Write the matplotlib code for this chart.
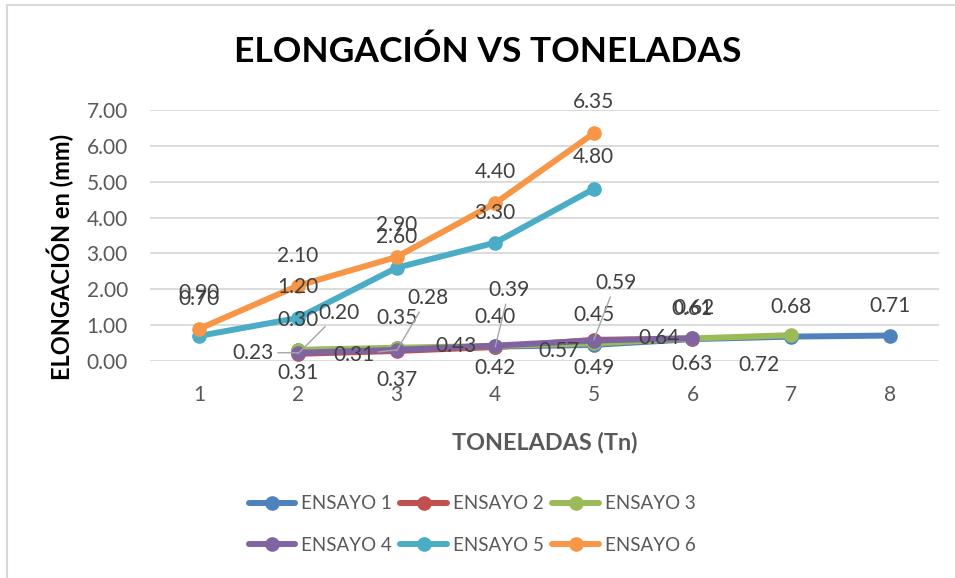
import matplotlib
matplotlib.use('Agg')
import matplotlib.pyplot as plt
from matplotlib.lines import Line2D
from matplotlib.ticker import FormatStrFormatter

plt.rcParams['font.family'] = ['Lato', 'DejaVu Sans']

# Datos (toneladas vs elongación en mm)
categorias = [1, 2, 3, 4, 5, 6, 7, 8]
nombres = ['ENSAYO 1', 'ENSAYO 2', 'ENSAYO 3', 'ENSAYO 4', 'ENSAYO 5', 'ENSAYO 6']

toneladas_1 = [2, 3, 4, 5, 6, 7, 8]
ensayo_1 = [0.30, 0.35, 0.40, 0.45, 0.61, 0.68, 0.71]
toneladas_2 = [2, 3, 4, 5, 6]
ensayo_2 = [0.20, 0.28, 0.39, 0.59, 0.62]
toneladas_3 = [2, 3, 4, 5, 6, 7]
ensayo_3 = [0.31, 0.37, 0.42, 0.49, 0.63, 0.72]
toneladas_4 = [2, 3, 4, 5, 6]
ensayo_4 = [0.23, 0.31, 0.43, 0.57, 0.64]
toneladas_5 = [1, 2, 3, 4, 5]
ensayo_5 = [0.70, 1.20, 2.60, 3.30, 4.80]
toneladas_6 = [1, 2, 3, 4, 5]
ensayo_6 = [0.90, 2.10, 2.90, 4.40, 6.35]

colores = ['#4f81bd', '#c0504d', '#9bbb59', '#8064a2', '#4bacc6', '#f79646']

# posicion de las etiquetas respecto al punto (pixeles, y hacia arriba)
desp_1 = [(0, 30)] * 7
desp_2 = [(41, 41), (31, 53), (14, 57), (22, 57), (2, 31)]
desp_3 = [(0, -23), (0, -32), (0, -22), (0, -25), (0, -26), (-32, -30)]
desp_4 = [(-45, 0), (-43, -5), (-39, 0), (-35, -10), (-33, 0)]
desp_5 = [(0, 37), (0, 31), (0, 31), (0, 30), (0, 32)]
desp_6 = [(0, 36), (0, 30), (0, 32), (0, 31), (0, 31)]
guias = {1: [0, 1, 2, 3], 3: [0, 1]}

series = [
    (toneladas_1, ensayo_1, desp_1),
    (toneladas_2, ensayo_2, desp_2),
    (toneladas_3, ensayo_3, desp_3),
    (toneladas_4, ensayo_4, desp_4),
    (toneladas_5, ensayo_5, desp_5),
    (toneladas_6, ensayo_6, desp_6),
]

fig = plt.figure(figsize=(9.55, 5.78), dpi=100)
ax = fig.add_axes([150/955, 1 - 361/578, 789/955, 251/578])

lineas = []
for i, (x, y, desp) in enumerate(series):
    l, = ax.plot(x, y, '-o', color=colores[i], lw=4.3, markersize=9.5,
                 solid_capstyle='round', label=nombres[i], zorder=2 + i * 0.1)
    lineas.append(l)

for i, (x, y, desp) in enumerate(series):
    for j, (xi, yi) in enumerate(zip(x, y)):
        dx, dy = desp[j]
        props = None
        if j in guias.get(i, []):
            props = dict(arrowstyle='-', color='#a6a6a6', lw=1, shrinkA=1, shrinkB=0)
        ax.annotate(f'{yi:.2f}', (xi, yi), xytext=(dx * 0.72, dy * 0.72),
                    textcoords='offset points', ha='center', va='center',
                    fontsize=15, color='#404040', arrowprops=props,
                    annotation_clip=False, zorder=5)

ax.set_xlim(0.5, 8.5)
ax.set_ylim(0, 7)
ax.set_xticks(categorias)
ax.set_yticks(range(0, 8))
ax.yaxis.set_major_formatter(FormatStrFormatter('%.2f'))
ax.yaxis.grid(True, color='#d9d9d9', lw=1.3)
ax.set_axisbelow(True)
for s in ax.spines.values():
    s.set_visible(False)
ax.tick_params(axis='both', length=0, colors='#595959', labelsize=15)
ax.tick_params(axis='x', pad=17)
ax.tick_params(axis='y', pad=16)

ax.set_xlabel('TONELADAS (Tn)', fontsize=16.8, fontweight='bold', color='#595959')
ax.xaxis.set_label_coords(0.5, -0.283)
ax.set_ylabel('ELONGACIÓN en (mm)', fontsize=17, fontweight='bold', color='black',
              va='center', ha='center')
ax.yaxis.set_label_coords(-0.114, 0.414)

fig.suptitle('ELONGACIÓN VS TONELADAS', x=488/955, y=1 - 52/578, va='center',
             fontsize=25.5, fontweight='bold', color='black')

# leyenda en orden por filas
orden = [0, 3, 1, 4, 2, 5]
fig.legend([lineas[k] for k in orden], [nombres[k] for k in orden],
           loc='center', bbox_to_anchor=(472/955, 1 - 524.5/578), ncol=3,
           frameon=False, fontsize=13.5, handlelength=2.5, handletextpad=0.3,
           columnspacing=0.45, labelspacing=1.3, labelcolor='#595959')

# borde del grafico
fig.add_artist(Line2D([7/955, 7/955], [0, 1 - 5/578], transform=fig.transFigure,
                      color='#d9d9d9', lw=1.5))
fig.add_artist(Line2D([7/955, 1], [1 - 5/578, 1 - 5/578], transform=fig.transFigure,
                      color='#d9d9d9', lw=1.5))

fig.savefig('out.png', dpi=100)
